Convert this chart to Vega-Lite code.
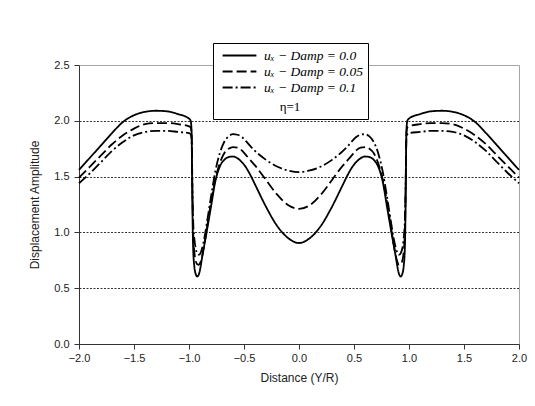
{
  "$schema": "https://vega.github.io/schema/vega-lite/v6.json",
  "width": 440,
  "height": 279,
  "autosize": "none",
  "padding": {"left": 79, "top": 65, "right": 16, "bottom": 62},
  "background": "white",
  "config": {
    "view": {"stroke": "#a6a6a6", "strokeWidth": 1},
    "font": "Liberation Sans"
  },
  "data": {
    "values": [
      {"x": -2.0, "y": 1.56, "d": "0.0"}, {"x": -1.9, "y": 1.67, "d": "0.0"}, {"x": -1.8, "y": 1.78, "d": "0.0"}, {"x": -1.7, "y": 1.89, "d": "0.0"}, {"x": -1.6, "y": 1.99, "d": "0.0"}, {"x": -1.5, "y": 2.05, "d": "0.0"}, {"x": -1.4, "y": 2.08, "d": "0.0"}, {"x": -1.3, "y": 2.09, "d": "0.0"}, {"x": -1.2, "y": 2.085, "d": "0.0"}, {"x": -1.1, "y": 2.06, "d": "0.0"}, {"x": -1.0, "y": 2.02, "d": "0.0"}, {"x": -0.985, "y": 2.0, "d": "0.0"}, {"x": -0.976, "y": 1.9, "d": "0.0"}, {"x": -0.972, "y": 1.5, "d": "0.0"}, {"x": -0.968, "y": 1.15, "d": "0.0"}, {"x": -0.962, "y": 0.85, "d": "0.0"}, {"x": -0.952, "y": 0.7, "d": "0.0"}, {"x": -0.94, "y": 0.63, "d": "0.0"}, {"x": -0.925, "y": 0.605, "d": "0.0"}, {"x": -0.91, "y": 0.625, "d": "0.0"}, {"x": -0.895, "y": 0.69, "d": "0.0"}, {"x": -0.88, "y": 0.78, "d": "0.0"}, {"x": -0.86, "y": 0.89, "d": "0.0"}, {"x": -0.84, "y": 1.0, "d": "0.0"}, {"x": -0.8, "y": 1.23, "d": "0.0"}, {"x": -0.76, "y": 1.46, "d": "0.0"}, {"x": -0.72, "y": 1.59, "d": "0.0"}, {"x": -0.68, "y": 1.65, "d": "0.0"}, {"x": -0.64, "y": 1.675, "d": "0.0"}, {"x": -0.6, "y": 1.68, "d": "0.0"}, {"x": -0.56, "y": 1.665, "d": "0.0"}, {"x": -0.52, "y": 1.63, "d": "0.0"}, {"x": -0.48, "y": 1.58, "d": "0.0"}, {"x": -0.44, "y": 1.51, "d": "0.0"}, {"x": -0.4, "y": 1.43, "d": "0.0"}, {"x": -0.3, "y": 1.23, "d": "0.0"}, {"x": -0.2, "y": 1.06, "d": "0.0"}, {"x": -0.1, "y": 0.95, "d": "0.0"}, {"x": 0.0, "y": 0.905, "d": "0.0"},
      {"x": 0.1, "y": 0.95, "d": "0.0"}, {"x": 0.2, "y": 1.06, "d": "0.0"}, {"x": 0.3, "y": 1.23, "d": "0.0"}, {"x": 0.4, "y": 1.43, "d": "0.0"}, {"x": 0.44, "y": 1.51, "d": "0.0"}, {"x": 0.48, "y": 1.58, "d": "0.0"}, {"x": 0.52, "y": 1.63, "d": "0.0"}, {"x": 0.56, "y": 1.665, "d": "0.0"}, {"x": 0.6, "y": 1.68, "d": "0.0"}, {"x": 0.64, "y": 1.675, "d": "0.0"}, {"x": 0.68, "y": 1.65, "d": "0.0"}, {"x": 0.72, "y": 1.59, "d": "0.0"}, {"x": 0.76, "y": 1.46, "d": "0.0"}, {"x": 0.8, "y": 1.23, "d": "0.0"}, {"x": 0.84, "y": 1.0, "d": "0.0"}, {"x": 0.86, "y": 0.89, "d": "0.0"}, {"x": 0.88, "y": 0.78, "d": "0.0"}, {"x": 0.895, "y": 0.69, "d": "0.0"}, {"x": 0.91, "y": 0.625, "d": "0.0"}, {"x": 0.925, "y": 0.605, "d": "0.0"}, {"x": 0.94, "y": 0.63, "d": "0.0"}, {"x": 0.952, "y": 0.7, "d": "0.0"}, {"x": 0.962, "y": 0.85, "d": "0.0"}, {"x": 0.968, "y": 1.15, "d": "0.0"}, {"x": 0.972, "y": 1.5, "d": "0.0"}, {"x": 0.976, "y": 1.9, "d": "0.0"}, {"x": 0.985, "y": 2.0, "d": "0.0"}, {"x": 1.0, "y": 2.02, "d": "0.0"}, {"x": 1.1, "y": 2.06, "d": "0.0"}, {"x": 1.2, "y": 2.085, "d": "0.0"}, {"x": 1.3, "y": 2.09, "d": "0.0"}, {"x": 1.4, "y": 2.08, "d": "0.0"}, {"x": 1.5, "y": 2.05, "d": "0.0"}, {"x": 1.6, "y": 1.99, "d": "0.0"}, {"x": 1.7, "y": 1.89, "d": "0.0"}, {"x": 1.8, "y": 1.78, "d": "0.0"}, {"x": 1.9, "y": 1.67, "d": "0.0"}, {"x": 2.0, "y": 1.56, "d": "0.0"},

      {"x": -2.0, "y": 1.49, "d": "0.05"}, {"x": -1.9, "y": 1.59, "d": "0.05"}, {"x": -1.8, "y": 1.69, "d": "0.05"}, {"x": -1.7, "y": 1.79, "d": "0.05"}, {"x": -1.6, "y": 1.87, "d": "0.05"}, {"x": -1.5, "y": 1.93, "d": "0.05"}, {"x": -1.4, "y": 1.97, "d": "0.05"}, {"x": -1.3, "y": 1.98, "d": "0.05"}, {"x": -1.2, "y": 1.98, "d": "0.05"}, {"x": -1.1, "y": 1.97, "d": "0.05"}, {"x": -1.0, "y": 1.95, "d": "0.05"}, {"x": -0.985, "y": 1.94, "d": "0.05"}, {"x": -0.976, "y": 1.88, "d": "0.05"}, {"x": -0.972, "y": 1.6, "d": "0.05"}, {"x": -0.968, "y": 1.3, "d": "0.05"}, {"x": -0.962, "y": 1.0, "d": "0.05"}, {"x": -0.952, "y": 0.83, "d": "0.05"}, {"x": -0.94, "y": 0.75, "d": "0.05"}, {"x": -0.925, "y": 0.715, "d": "0.05"}, {"x": -0.91, "y": 0.71, "d": "0.05"}, {"x": -0.895, "y": 0.735, "d": "0.05"}, {"x": -0.88, "y": 0.79, "d": "0.05"}, {"x": -0.86, "y": 0.9, "d": "0.05"}, {"x": -0.84, "y": 1.02, "d": "0.05"}, {"x": -0.8, "y": 1.27, "d": "0.05"}, {"x": -0.76, "y": 1.48, "d": "0.05"}, {"x": -0.72, "y": 1.62, "d": "0.05"}, {"x": -0.68, "y": 1.71, "d": "0.05"}, {"x": -0.64, "y": 1.75, "d": "0.05"}, {"x": -0.6, "y": 1.765, "d": "0.05"}, {"x": -0.56, "y": 1.76, "d": "0.05"}, {"x": -0.52, "y": 1.735, "d": "0.05"}, {"x": -0.48, "y": 1.69, "d": "0.05"}, {"x": -0.44, "y": 1.645, "d": "0.05"}, {"x": -0.4, "y": 1.6, "d": "0.05"}, {"x": -0.3, "y": 1.47, "d": "0.05"}, {"x": -0.2, "y": 1.34, "d": "0.05"}, {"x": -0.1, "y": 1.245, "d": "0.05"}, {"x": 0.0, "y": 1.21, "d": "0.05"},
      {"x": 0.1, "y": 1.245, "d": "0.05"}, {"x": 0.2, "y": 1.34, "d": "0.05"}, {"x": 0.3, "y": 1.47, "d": "0.05"}, {"x": 0.4, "y": 1.6, "d": "0.05"}, {"x": 0.44, "y": 1.645, "d": "0.05"}, {"x": 0.48, "y": 1.69, "d": "0.05"}, {"x": 0.52, "y": 1.735, "d": "0.05"}, {"x": 0.56, "y": 1.76, "d": "0.05"}, {"x": 0.6, "y": 1.765, "d": "0.05"}, {"x": 0.64, "y": 1.75, "d": "0.05"}, {"x": 0.68, "y": 1.71, "d": "0.05"}, {"x": 0.72, "y": 1.62, "d": "0.05"}, {"x": 0.76, "y": 1.48, "d": "0.05"}, {"x": 0.8, "y": 1.27, "d": "0.05"}, {"x": 0.84, "y": 1.02, "d": "0.05"}, {"x": 0.86, "y": 0.9, "d": "0.05"}, {"x": 0.88, "y": 0.79, "d": "0.05"}, {"x": 0.895, "y": 0.735, "d": "0.05"}, {"x": 0.91, "y": 0.71, "d": "0.05"}, {"x": 0.925, "y": 0.715, "d": "0.05"}, {"x": 0.94, "y": 0.75, "d": "0.05"}, {"x": 0.952, "y": 0.83, "d": "0.05"}, {"x": 0.962, "y": 1.0, "d": "0.05"}, {"x": 0.968, "y": 1.3, "d": "0.05"}, {"x": 0.972, "y": 1.6, "d": "0.05"}, {"x": 0.976, "y": 1.88, "d": "0.05"}, {"x": 0.985, "y": 1.94, "d": "0.05"}, {"x": 1.0, "y": 1.95, "d": "0.05"}, {"x": 1.1, "y": 1.97, "d": "0.05"}, {"x": 1.2, "y": 1.98, "d": "0.05"}, {"x": 1.3, "y": 1.98, "d": "0.05"}, {"x": 1.4, "y": 1.97, "d": "0.05"}, {"x": 1.5, "y": 1.93, "d": "0.05"}, {"x": 1.6, "y": 1.87, "d": "0.05"}, {"x": 1.7, "y": 1.79, "d": "0.05"}, {"x": 1.8, "y": 1.69, "d": "0.05"}, {"x": 1.9, "y": 1.59, "d": "0.05"}, {"x": 2.0, "y": 1.49, "d": "0.05"},

      {"x": -2.0, "y": 1.44, "d": "0.1"}, {"x": -1.9, "y": 1.53, "d": "0.1"}, {"x": -1.8, "y": 1.63, "d": "0.1"}, {"x": -1.7, "y": 1.73, "d": "0.1"}, {"x": -1.6, "y": 1.81, "d": "0.1"}, {"x": -1.5, "y": 1.87, "d": "0.1"}, {"x": -1.4, "y": 1.9, "d": "0.1"}, {"x": -1.3, "y": 1.91, "d": "0.1"}, {"x": -1.2, "y": 1.91, "d": "0.1"}, {"x": -1.1, "y": 1.9, "d": "0.1"}, {"x": -1.0, "y": 1.89, "d": "0.1"}, {"x": -0.985, "y": 1.88, "d": "0.1"}, {"x": -0.976, "y": 1.83, "d": "0.1"}, {"x": -0.972, "y": 1.6, "d": "0.1"}, {"x": -0.968, "y": 1.35, "d": "0.1"}, {"x": -0.962, "y": 1.1, "d": "0.1"}, {"x": -0.952, "y": 0.95, "d": "0.1"}, {"x": -0.94, "y": 0.86, "d": "0.1"}, {"x": -0.925, "y": 0.815, "d": "0.1"}, {"x": -0.91, "y": 0.8, "d": "0.1"}, {"x": -0.895, "y": 0.815, "d": "0.1"}, {"x": -0.88, "y": 0.86, "d": "0.1"}, {"x": -0.86, "y": 0.95, "d": "0.1"}, {"x": -0.84, "y": 1.07, "d": "0.1"}, {"x": -0.8, "y": 1.32, "d": "0.1"}, {"x": -0.76, "y": 1.55, "d": "0.1"}, {"x": -0.72, "y": 1.71, "d": "0.1"}, {"x": -0.68, "y": 1.81, "d": "0.1"}, {"x": -0.64, "y": 1.86, "d": "0.1"}, {"x": -0.6, "y": 1.88, "d": "0.1"}, {"x": -0.56, "y": 1.875, "d": "0.1"}, {"x": -0.52, "y": 1.855, "d": "0.1"}, {"x": -0.48, "y": 1.815, "d": "0.1"}, {"x": -0.44, "y": 1.77, "d": "0.1"}, {"x": -0.4, "y": 1.73, "d": "0.1"}, {"x": -0.3, "y": 1.65, "d": "0.1"}, {"x": -0.2, "y": 1.59, "d": "0.1"}, {"x": -0.1, "y": 1.555, "d": "0.1"}, {"x": 0.0, "y": 1.54, "d": "0.1"},
      {"x": 0.1, "y": 1.555, "d": "0.1"}, {"x": 0.2, "y": 1.59, "d": "0.1"}, {"x": 0.3, "y": 1.65, "d": "0.1"}, {"x": 0.4, "y": 1.73, "d": "0.1"}, {"x": 0.44, "y": 1.77, "d": "0.1"}, {"x": 0.48, "y": 1.815, "d": "0.1"}, {"x": 0.52, "y": 1.855, "d": "0.1"}, {"x": 0.56, "y": 1.875, "d": "0.1"}, {"x": 0.6, "y": 1.88, "d": "0.1"}, {"x": 0.64, "y": 1.86, "d": "0.1"}, {"x": 0.68, "y": 1.81, "d": "0.1"}, {"x": 0.72, "y": 1.71, "d": "0.1"}, {"x": 0.76, "y": 1.55, "d": "0.1"}, {"x": 0.8, "y": 1.32, "d": "0.1"}, {"x": 0.84, "y": 1.07, "d": "0.1"}, {"x": 0.86, "y": 0.95, "d": "0.1"}, {"x": 0.88, "y": 0.86, "d": "0.1"}, {"x": 0.895, "y": 0.815, "d": "0.1"}, {"x": 0.91, "y": 0.8, "d": "0.1"}, {"x": 0.925, "y": 0.815, "d": "0.1"}, {"x": 0.94, "y": 0.86, "d": "0.1"}, {"x": 0.952, "y": 0.95, "d": "0.1"}, {"x": 0.962, "y": 1.1, "d": "0.1"}, {"x": 0.968, "y": 1.35, "d": "0.1"}, {"x": 0.972, "y": 1.6, "d": "0.1"}, {"x": 0.976, "y": 1.83, "d": "0.1"}, {"x": 0.985, "y": 1.88, "d": "0.1"}, {"x": 1.0, "y": 1.89, "d": "0.1"}, {"x": 1.1, "y": 1.9, "d": "0.1"}, {"x": 1.2, "y": 1.91, "d": "0.1"}, {"x": 1.3, "y": 1.91, "d": "0.1"}, {"x": 1.4, "y": 1.9, "d": "0.1"}, {"x": 1.5, "y": 1.87, "d": "0.1"}, {"x": 1.6, "y": 1.81, "d": "0.1"}, {"x": 1.7, "y": 1.73, "d": "0.1"}, {"x": 1.8, "y": 1.63, "d": "0.1"}, {"x": 1.9, "y": 1.53, "d": "0.1"}, {"x": 2.0, "y": 1.44, "d": "0.1"}
    ]
  },
  "mark": {"type": "line", "color": "black", "strokeWidth": 1.8, "interpolate": "monotone"},
  "encoding": {
    "x": {
      "field": "x",
      "type": "quantitative",
      "scale": {"domain": [-2, 2], "nice": false, "zero": false},
      "axis": {
        "title": "Distance (Y/R)",
        "values": [-2, -1.5, -1, -0.5, 0, 0.5, 1, 1.5, 2],
        "format": ".1f",
        "grid": false,
        "labelFlush": false,
        "domainColor": "#333333",
        "tickColor": "#333333",
        "tickSize": 5,
        "labelFontSize": 11,
        "labelColor": "#222222",
        "labelPadding": 3,
        "titleFontSize": 12,
        "titleFontWeight": "normal",
        "titleColor": "#222222",
        "titlePadding": 9
      }
    },
    "y": {
      "field": "y",
      "type": "quantitative",
      "scale": {"domain": [0, 2.5], "nice": false},
      "axis": {
        "title": "Displacement Amplitude",
        "values": [0, 0.5, 1, 1.5, 2, 2.5],
        "format": ".1f",
        "grid": true,
        "labelFlush": false,
        "gridColor": "#000000",
        "gridDash": [2, 1.5],
        "gridWidth": 0.8,
        "gridOpacity": {"condition": {"test": "datum.value == 0 || datum.value == 2.5", "value": 0}, "value": 1},
        "domainColor": "#333333",
        "tickColor": "#333333",
        "tickSize": 5,
        "labelFontSize": 11,
        "labelColor": "#222222",
        "labelPadding": 5,
        "titleFontSize": 12,
        "titleFontWeight": "normal",
        "titleColor": "#222222",
        "titlePadding": 12
      }
    },
    "strokeDash": {
      "field": "d",
      "type": "nominal",
      "scale": {"domain": ["0.0", "0.05", "0.1"], "range": [[1, 0], [10, 4], [10, 3, 2, 3]]},
      "legend": {
        "orient": "none",
        "legendX": 134,
        "legendY": -22,
        "title": "η=1",
        "titleOrient": "bottom",
        "titleAnchor": "middle",
        "titleFont": "Liberation Serif",
        "titleFontWeight": "normal",
        "titleFontSize": 13,
        "titleColor": "#000000",
        "titlePadding": 7,
        "labelFont": "Liberation Serif",
        "labelFontStyle": "italic",
        "labelFontSize": 13.5,
        "labelColor": "#000000",
        "labelExpr": "'uₓ − Damp = ' + datum.label + '\u2002'",
        "symbolType": "M-2.6,0H2.6",
        "symbolStrokeWidth": 2,
        "symbolStrokeColor": "black",
        "symbolFillColor": "transparent",
        "symbolSize": 169,
        "symbolOffset": 14,
        "fillColor": "white",
        "strokeColor": "black",
        "padding": 5,
        "rowPadding": 2,
        "labelOffset": 17
      }
    }
  }
}
